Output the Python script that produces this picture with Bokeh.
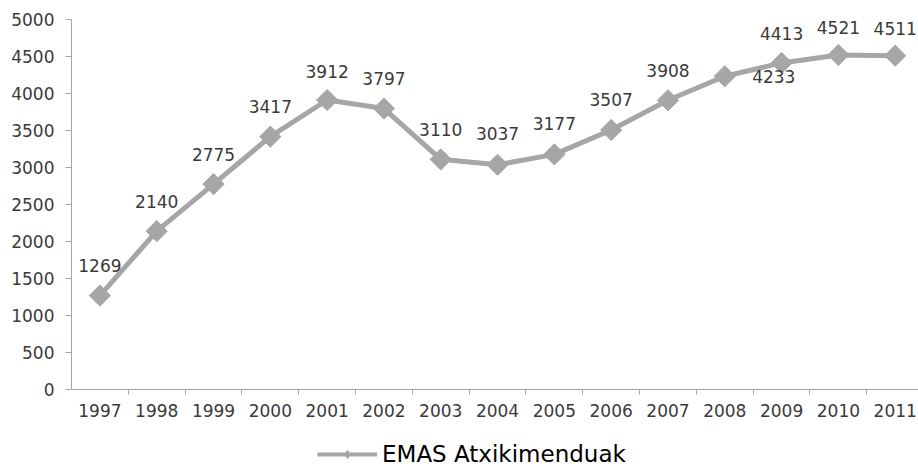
from bokeh.plotting import figure
from bokeh.layouts import column
from bokeh.models import Range1d, FixedTicker, Legend, LegendItem, ColumnDataSource
from bokeh.embed import file_html
from bokeh.resources import INLINE
from bokeh.core.properties import value
import math

years = [1997, 1998, 1999, 2000, 2001, 2002, 2003, 2004, 2005, 2006, 2007, 2008, 2009, 2010, 2011]
values = [1269, 2140, 2775, 3417, 3912, 3797, 3110, 3037, 3177, 3507, 3908, 4233, 4413, 4521, 4511]
series_name = "EMAS Atxikimenduak"
y_ticks = [0, 500, 1000, 1500, 2000, 2500, 3000, 3500, 4000, 4500, 5000]

# label placement (pixel offsets, styling only)
label_dx = [0, 0, 0, 0, 0, 0, 0, 0, 0, 0, 0, 49, 0, 0, 0]
label_dy = [-30, -30, -30, -30, -29, -30, -30, -31, -31, -30, -30, 0, -29, -27, -27]

FONT = "DejaVu Sans"
GREY = "#a6a6a6"
TXT = "#3a3a3a"

src = ColumnDataSource(dict(
    x=years, y=values, lab=[str(v) for v in values], dx=label_dx, dy=label_dy,
))

p = figure(width=918, height=440, output_backend="svg", toolbar_location=None,
           x_range=Range1d(years[0] - 0.5, years[-1] + 0.41),
           y_range=Range1d(0, 5000),
           min_border_left=71, min_border_right=0, min_border_top=19, min_border_bottom=51)
p.outline_line_color = None
p.grid.visible = False
p.background_fill_color = "white"

p.line("x", "y", source=src, line_color=GREY, line_width=5)
p.scatter("x", "y", source=src, marker="square", size=15, angle=math.pi / 4,
          fill_color=GREY, line_color=GREY)
p.text("x", "y", text="lab", source=src, x_offset="dx", y_offset="dy",
       text_align="center", text_baseline="middle", text_font=value(FONT),
       text_font_size="17px", text_color=TXT)

# y axis
p.yaxis.ticker = FixedTicker(ticks=y_ticks)
p.yaxis.axis_line_color = GREY
p.yaxis.major_tick_line_color = GREY
p.yaxis.major_tick_out = 6
p.yaxis.major_tick_in = 0
p.yaxis.minor_tick_line_color = None
p.yaxis.major_label_standoff = 11
p.yaxis.major_label_text_font = FONT
p.yaxis.major_label_text_font_size = "17px"
p.yaxis.major_label_text_color = TXT

# x axis: labels at years, ticks between categories
p.xaxis.ticker = FixedTicker(ticks=years, minor_ticks=[y + 0.5 for y in years[:-1]])
p.xaxis.major_label_overrides = {y: str(y) for y in years}
p.xaxis.axis_line_color = GREY
p.xaxis.major_tick_line_color = None
p.xaxis.major_tick_out = 0
p.xaxis.major_tick_in = 0
p.xaxis.minor_tick_line_color = GREY
p.xaxis.minor_tick_out = 5
p.xaxis.minor_tick_in = 0
p.xaxis.major_label_standoff = 9
p.xaxis.major_label_text_font = FONT
p.xaxis.major_label_text_font_size = "17px"
p.xaxis.major_label_text_color = TXT

# legend strip below the chart (same series, ranged out of view; only its legend shows)
lg = figure(width=918, height=27, output_backend="svg", toolbar_location=None,
            x_range=Range1d(0, 1), y_range=Range1d(0, 1),
            x_axis_type=None, y_axis_type=None,
            min_border_left=0, min_border_right=0, min_border_top=0, min_border_bottom=0)
lg.outline_line_color = None
lg.grid.visible = False
l_ln = lg.line("x", "y", source=src, line_color=GREY, line_width=4)
l_mk = lg.scatter("x", "y", source=src, marker="diamond", size=15,
                  fill_color=GREY, line_color=GREY)
legend = Legend(items=[LegendItem(label=series_name, renderers=[l_ln, l_mk])],
                location=(246, 0), orientation="horizontal",
                glyph_width=60, glyph_height=20, label_height=20,
                label_standoff=5, padding=0, margin=0, spacing=0,
                border_line_color=None, background_fill_alpha=0,
                label_text_font=FONT, label_text_font_size="23px",
                label_text_color="black", label_text_baseline="middle")
lg.add_layout(legend, "center")

layout = column(p, lg, spacing=0)
open("out.html", "w").write(file_html(layout, INLINE))
